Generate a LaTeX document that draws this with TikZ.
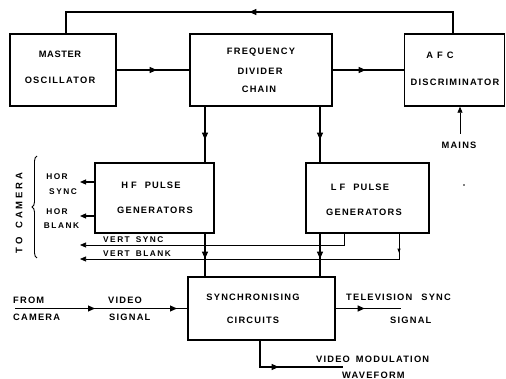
\documentclass[tikz,border=0pt]{standalone}
\usepackage{fontspec}
\newfontfamily\lf[LetterSpace=13]{Liberation Sans Bold}
\newfontfamily\lfs[LetterSpace=18]{Liberation Sans Bold}
\newfontfamily\lfw[LetterSpace=30]{Liberation Sans Bold}
\usetikzlibrary{arrows.meta,decorations.markings,decorations.pathreplacing}
\tikzset{
  box/.style={draw, line width=1.4pt, inner sep=0pt},
  ln/.style={line width=1.1pt},
  thin ln/.style={line width=0.7pt},
  tip/.style={-{Triangle[length=6pt,width=5pt]}},
  ar/.style={postaction=decorate, decoration={markings, mark=at position #1 with {\arrow{Triangle[length=7pt,width=6pt]}}}},
  arsmall/.style={postaction=decorate, decoration={markings, mark=at position #1 with {\arrow{Triangle[length=4pt,width=3pt]}}}},
  artwo/.style 2 args={postaction=decorate, decoration={markings, mark=at position #1 with {\arrow{Triangle[length=7pt,width=6pt]}}, mark=at position #2 with {\arrow{Triangle[length=7pt,width=6pt]}}}},
  big/.style={font=\lf\fontsize{9.3}{11}\selectfont, inner sep=0pt},
  small/.style={font=\lfs\fontsize{8.3}{9}\selectfont, inner sep=0pt},
}
\begin{document}
\begin{tikzpicture}[x=1pt,y=-1pt]
\useasboundingbox (0,0) rectangle (506,379);

% boxes
\node[box, minimum width=106pt, minimum height=72pt] (mo) at (63,70) {};
\node[box, minimum width=142pt, minimum height=72pt] (fd) at (261,70) {};
\node[box, minimum width=100pt, minimum height=72pt] (afc) at (454.5,70) {};
\node[box, minimum width=119pt, minimum height=70pt] (hf) at (154.5,198) {};
\node[box, minimum width=123pt, minimum height=70pt] (lf) at (367.5,198) {};
\node[box, minimum width=147pt, minimum height=63pt] (sy) at (261.5,308.5) {};

% box texts
\node[big] (t1) at (60,54) {M\hspace{0.6pt}A\hspace{0.6pt}S\hspace{0.6pt}T\hspace{0.6pt}E\hspace{0.6pt}R};
\node[big] (t2) at (60,80) {OSCILLATOR};
\node[big] (t3) at (261,52) {FREQUENCY};
\node[big] (t4) at (260,71) {DIVIDER};
\node[big] (t5) at (259,89) {CHAIN};
\node[big] (t6) at (440,55) {A\hspace{4pt}F\hspace{4pt}C};
\node[big] (t7) at (455,82) {DISCRIMINATOR};
\node[big] (t8) at (151,185) {H\hspace{3pt}F\hspace{8pt}PULSE};
\node[big] (t9) at (155,210) {GENERATORS};
\node[big] (t10) at (360,187) {L\hspace{3pt}F\hspace{8pt}PULSE};
\node[big] (t11) at (364,212) {GENERATORS};
\node[big] (t12) at (253,297) {SYNCHRONISING};
\node[big] (t13) at (253,320) {CIRCUITS};

% outside labels
\node[big] (mains) at (459,145) {MAINS};
\node[small] (h1) at (57,177) {HOR};
\node[small] (h2) at (63,192) {SYNC};
\node[small] (h3) at (57,212) {HOR};
\node[small] (h4) at (61.5,226) {BLANK};
\node[small, anchor=west] (v1) at (103,239.5) {VERT\hspace{6pt}SYNC};
\node[small, anchor=west] (v2) at (103,254) {VERT\hspace{6pt}BLANK};
\node[font=\lfw\fontsize{9.5}{11}\selectfont, inner sep=0pt, rotate=90] (tc) at (19,213) {TO\hspace{9pt}CAMERA};
\node[big, anchor=west] (f1) at (13,300) {FROM};
\node[big, anchor=west] (f2) at (13,317.5) {CAMERA};
\node[big, anchor=west] (f3) at (108,300) {VIDEO};
\node[big, anchor=west] (f4) at (109,317.5) {SIGNAL};
\node[big, anchor=west] (s1) at (346,297) {TELEVISION\hspace{9pt}SYNC};
\node[big, anchor=west] (s2) at (390,320) {SIGNAL};
\node[big, anchor=west] (w1) at (316,359) {VIDEO\hspace{6pt}MODULATION};
\node[big, anchor=west] (w2) at (342,375) {WAVEFORM};

% coordinates
\coordinate (fbR) at (453,12);
\coordinate (fbL) at (66,12);
\coordinate (mainsC) at (460,134);
\coordinate (hsE) at (80,182);
\coordinate (hbE) at (80,216);
\coordinate (vsA) at (344,245);
\coordinate (vsE) at (80,245);
\coordinate (vbA) at (399,259);
\coordinate (vbE) at (80,259);
\coordinate (fcS) at (15,308.5);
\coordinate (tvE) at (401,308.5);
\coordinate (vmA) at (260,367);
\coordinate (vmE) at (343,367);
\coordinate (dot) at (464,185);
\coordinate (a1) at (205,0);
\coordinate (a2) at (320,0);

% connectors
\draw[ln, ar=225pt] (afc.north -| fbR) -- (fbR) -- (fbL) -- (fbL |- mo.north);
\draw[ln, ar=40pt] (mo.east) -- (fd.west);
\draw[ln, ar=33pt] (fd.east) -- (afc.west);
\draw[thin ln, tip] (mainsC) -- (mainsC |- afc.south);
\draw[ln, ar=33pt] (a1 |- fd.south) -- (a1 |- hf.north);
\draw[ln, ar=33pt] (a2 |- fd.south) -- (a2 |- lf.north);
\draw[ln, ar=25pt] (a1 |- hf.south) -- (a1 |- sy.north);
\draw[ln, ar=25pt] (a2 |- lf.south) -- (a2 |- sy.north);
\draw[ln, tip] (hf.west |- hsE) -- (hsE);
\draw[ln, tip] (hf.west |- hbE) -- (hbE);
\draw[thin ln, tip] (vsA |- lf.south) -- (vsA) -- (vsE);
\draw[thin ln, tip, arsmall=19pt] (vbA |- lf.south) -- (vbA) -- (vbE);
\draw[ln, artwo={80pt}{162pt}] (fcS) -- (sy.west);
\draw[ln, ar=29pt] (sy.east) -- (tvE);
\draw[ln, ar=45pt] (vmA |- sy.south) -- (vmA) -- (vmE);

% brace
\draw[line width=0.9pt, decorate, decoration={brace, amplitude=5pt}] (37,258) -- (37,156);
\fill (dot) circle (0.9pt);
\end{tikzpicture}
\end{document}
